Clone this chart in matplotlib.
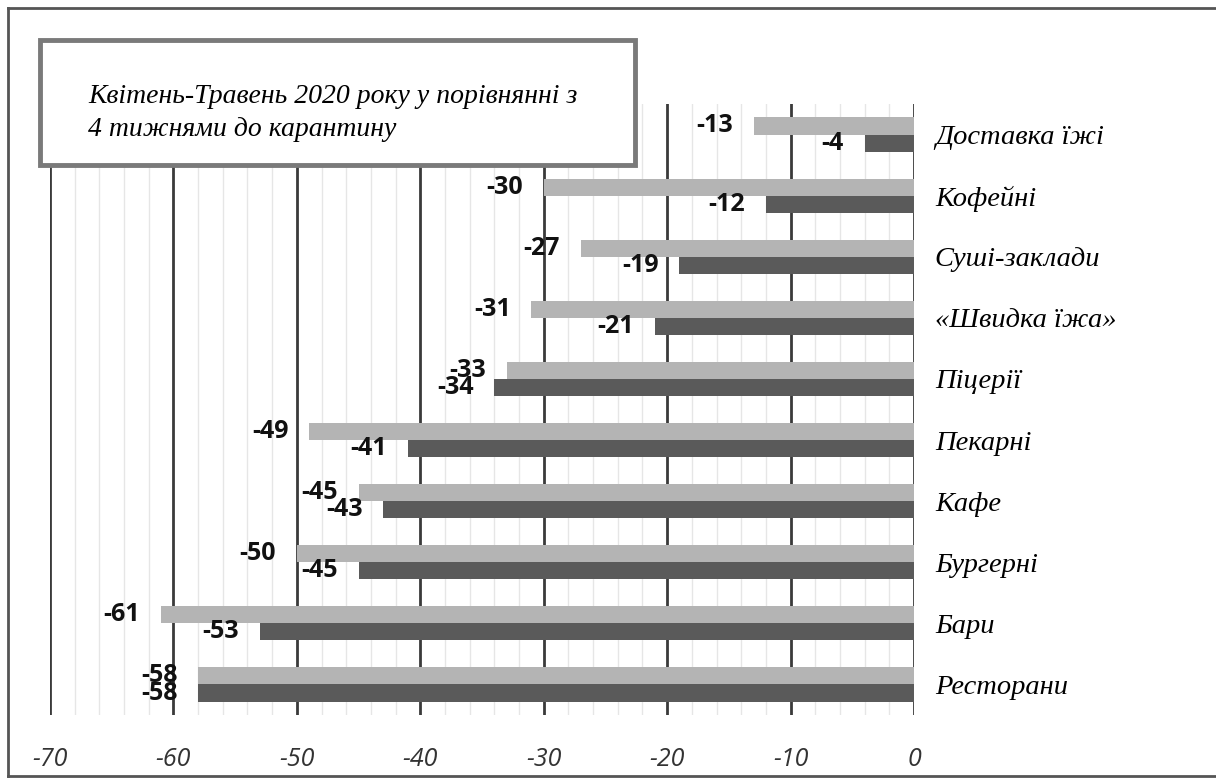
import numpy as np
import matplotlib.pyplot as plt
from matplotlib.patches import Rectangle
from matplotlib.lines import Line2D
from matplotlib.ticker import MultipleLocator

plt.rcParams['axes.unicode_minus'] = False

categories = ['Доставка їжі', 'Кофейні', 'Суші-заклади', '«Швидка їжа»', 'Піцерії',
              'Пекарні', 'Кафе', 'Бургерні', 'Бари', 'Ресторани']
april_may = [-13, -30, -27, -31, -33, -49, -45, -50, -61, -58]
second = [-4, -12, -19, -21, -34, -41, -43, -45, -53, -58]
x_ticks = [-70, -60, -50, -40, -30, -20, -10, 0]
box_text = 'Квітень-Травень 2020 року у порівнянні з\n4 тижнями до карантину'

fig = plt.figure(figsize=(12.16, 7.78), dpi=100)
ax = fig.add_axes([50 / 1216, 1 - 715 / 778, 864 / 1216, 611 / 778])

y = np.arange(len(categories))
h = 0.28
ax.barh(y - h / 2, april_may, height=h, color='#b4b4b4', zorder=3)
ax.barh(y + h / 2, second, height=h, color='#5a5a5a', zorder=3)

lab_font = dict(family='Open Sans', fontweight='bold', fontsize=18, color='#111111')
for yi, v in zip(y - h / 2, april_may):
    ax.annotate(str(v), (v, yi), xytext=(-15, 0), textcoords='offset points',
                ha='right', va='center', **lab_font)
for yi, v in zip(y + h / 2, second):
    ax.annotate(str(v), (v, yi), xytext=(-15, 0), textcoords='offset points',
                ha='right', va='center', **lab_font)

ax.set_xlim(-70, 0)
ax.set_ylim(len(categories) - 0.5, -0.5)
ax.set_xticks(x_ticks)
ax.xaxis.set_minor_locator(MultipleLocator(2))
ax.grid(which='minor', axis='x', color='#e6e6e6', lw=1, zorder=0)
ax.grid(which='major', axis='x', color='#3a3a3a', lw=2, zorder=1)
ax.tick_params(axis='x', which='both', length=0, pad=23)
for t in ax.get_xticklabels():
    t.set_fontfamily('Open Sans')
    t.set_fontstyle('italic')
    t.set_fontsize(18)
    t.set_color('#333333')

ax.yaxis.tick_right()
ax.set_yticks(y)
ax.set_yticklabels(categories, fontfamily='Liberation Serif', fontstyle='italic', fontsize=20.5)
ax.tick_params(axis='y', length=0, pad=15)
for s in ax.spines.values():
    s.set_visible(False)

# text box in the top left corner
fig.patches.append(Rectangle((40 / 1216, 1 - 165 / 778), 595 / 1216, 125 / 778,
                             transform=fig.transFigure, facecolor='white',
                             edgecolor='#7a7a7a', lw=3.5, zorder=5))
fig.text(88 / 1216, 1 - 113 / 778, box_text, fontfamily='Liberation Serif',
         fontstyle='italic', fontsize=20, va='center', ha='left', linespacing=1.45, zorder=6)

# outer frame
for xs, ys in [((8, 8), (8, 776)), ((8, 1216), (8, 8)), ((8, 1216), (776, 776))]:
    fig.lines.append(Line2D([x / 1216 for x in xs], [1 - v / 778 for v in ys],
                            transform=fig.transFigure, color='#555555', lw=2))

fig.savefig('out.png', dpi=100)
